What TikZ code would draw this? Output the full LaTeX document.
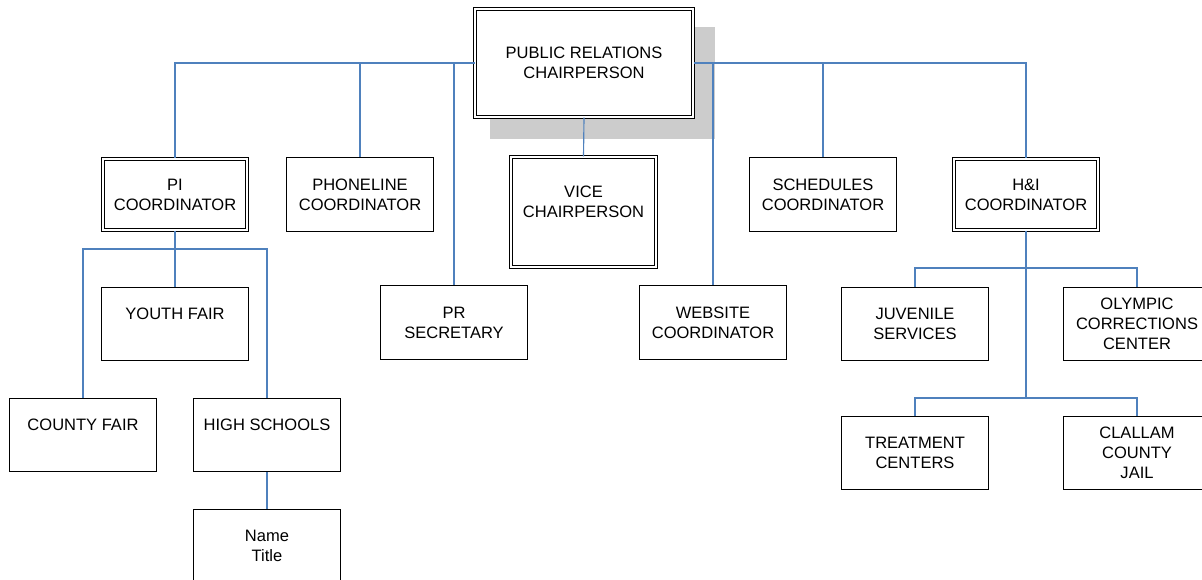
\documentclass[tikz,border=0pt]{standalone}
\usepackage{fontspec}
\setmainfont{Liberation Sans}
\usetikzlibrary{calc, positioning, shadows}
\usepackage{xcolor}
\definecolor{linkblue}{RGB}{79,129,189}
\tikzset{
  post/.style = {
    draw,
    fill           = white,
    line width     = 0.8pt,
    minimum width  = 2.95cm,
    minimum height = 1.47cm,
    inner sep      = 0pt,
    align          = center,
    font           = \fontsize{9.4}{11.3}\selectfont
  },
  lead/.style = {
    post,
    double,
    line width      = 0.6pt,
    double distance = 1.1pt,
    minimum width   = 2.88cm,
    minimum height  = 1.42cm
  },
  link/.style = {draw = linkblue, line width = 0.65pt}
}

\begin{document}
\begin{tikzpicture}[x=0.02cm, y=-0.02cm]
\useasboundingbox (0, 0) rectangle (1202, 580);
\clip (0, 0) rectangle (1202, 580);

% Chair with its grey shadow
\node[lead, minimum width=4.36cm, minimum height=2.16cm,
      drop shadow={shadow xshift=0.36cm, shadow yshift=-0.38cm,
                   shadow scale=1.035, fill=black!20, opacity=1}]
  (chair) at (584, 63) {PUBLIC RELATIONS\\CHAIRPERSON};

% Second row
\node[lead] (pi) at (175, 194.5) {PI\\COORDINATOR};
\node[post] (phone) at (360, 194.5) {PHONELINE\\COORDINATOR};
\node[lead, minimum width=2.9cm, minimum height=2.2cm] (vice) at (583.5, 212) {VICE\\CHAIRPERSON\\\mbox{}};
\node[post] (sched) at (823, 194.5) {SCHEDULES\\COORDINATOR};
\node[lead] (hi) at (1026, 194.5) {H\&I\\COORDINATOR};

% Third row
\node[post] (youth) at (175, 324) {YOUTH FAIR\\\mbox{}};
\node[post] (prsec) at (454, 322.5) {PR\\SECRETARY};
\node[post] (web) at (713, 322.5) {WEBSITE\\COORDINATOR};
\node[post] (juv) at (915, 324) {JUVENILE\\SERVICES};
\node[post] (olym) at (1137, 324) {OLYMPIC\\CORRECTIONS\\CENTER};

% Fourth row
\node[post] (county) at (83, 435) {COUNTY FAIR\\\mbox{}};
\node[post] (high) at (267, 435) {HIGH SCHOOLS\\\mbox{}};
\node[post] (treat) at (915, 453) {TREATMENT\\CENTERS};
\node[post] (clal) at (1137, 453) {CLALLAM\\COUNTY\\JAIL};

% Bottom
\node[post] (name) at (267, 546) {Name\\Title};

% Links from the chair
\draw[link] (chair.west) -- (chair.west -| pi.north) -- (pi.north);
\draw[link] (chair.west -| phone.north) -- (phone.north);
\draw[link] (chair.west -| prsec.north) -- (prsec.north);
\draw[link] (chair.south) -- (vice.north);
\draw[link] (chair.east) -- (chair.east -| hi.north) -- (hi.north);
\draw[link] (chair.east -| web.north) -- (web.north);
\draw[link] (chair.east -| sched.north) -- (sched.north);

% PI branch
\coordinate (pibus) at (175, 249);
\draw[link] (pi.south) -- (pibus) -- (youth.north);
\draw[link] (county.north) |- (pibus) -| (high.north);
\draw[link] (high.south) -- (name.north);

% H&I branch
\coordinate (hibus) at (1026, 268);
\coordinate (hibuslow) at (1026, 398);
\draw[link] (hi.south) -- (hibuslow);
\draw[link] (juv.north) |- (hibus) -| (olym.north);
\draw[link] (treat.north) |- (hibuslow) -| (clal.north);
\end{tikzpicture}
\end{document}
